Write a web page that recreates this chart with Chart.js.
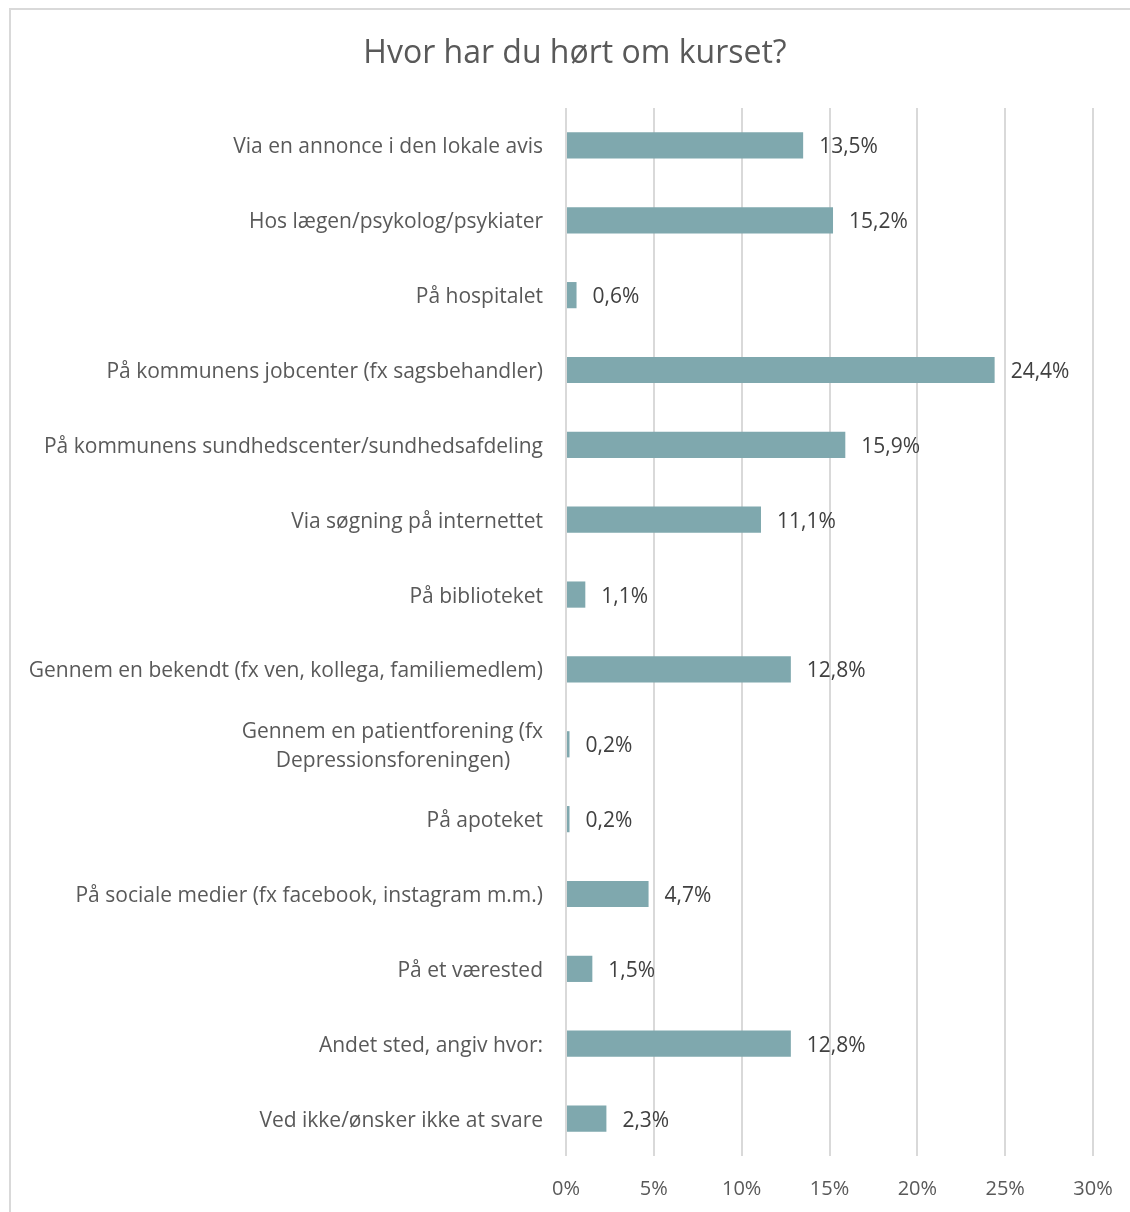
<!DOCTYPE html>
<html>
<head>
<meta charset="utf-8">
<script src="https://cdn.jsdelivr.net/npm/chart.js@4"></script>
<style>
  html, body { margin: 0; padding: 0; background: #fff; overflow: hidden; }
  body { width: 1130px; height: 1212px; position: relative; }
  #frame { position: absolute; left: 9px; top: 8px; width: 1200px; height: 1300px;
    border: 2px solid #d9d9d9; box-sizing: border-box; }
  #wrap { position: absolute; left: 10px; top: 8px; width: 1130px; height: 1204px; }
</style>
</head>
<body>
<div id="frame"></div>
<div id="wrap"><canvas id="chart"></canvas></div>
<script>
'use strict';
// survey answers, share of respondents in %
const CATEGORIES = [
  'Via en annonce i den lokale avis',
  'Hos lægen/psykolog/psykiater',
  'På hospitalet',
  'På kommunens jobcenter (fx sagsbehandler)',
  'På kommunens sundhedscenter/sundhedsafdeling',
  'Via søgning på internettet',
  'På biblioteket',
  'Gennem en bekendt (fx ven, kollega, familiemedlem)',
  ['Gennem en patientforening (fx', 'Depressionsforeningen)      '],
  'På apoteket',
  'På sociale medier (fx facebook, instagram m.m.)',
  'På et værested',
  'Andet sted, angiv hvor:',
  'Ved ikke/ønsker ikke at svare',
];
const VALUES = [13.5, 15.2, 0.6, 24.4, 15.9, 11.1, 1.1, 12.8, 0.2, 0.2, 4.7, 1.5, 12.8, 2.3];
const X_TICKS = [0, 5, 10, 15, 20, 25, 30];

const FONT = '"Open Sans", "Noto Sans", sans-serif';
const fmt = (v) => v.toFixed(1).replace('.', ',') + '%';

// value labels at bar ends
const valueLabels = {
  id: 'valueLabels',
  afterDatasetsDraw(chart) {
    const ctx = chart.ctx, meta = chart.getDatasetMeta(0);
    ctx.save();
    ctx.font = '21px ' + FONT;
    ctx.fillStyle = '#404040';
    ctx.textAlign = 'left';
    ctx.textBaseline = 'middle';
    meta.data.forEach((bar, i) => {
      ctx.fillText(fmt(VALUES[i]), bar.x + 16, bar.y + 2);
    });
    ctx.restore();
  }
};

new Chart(document.getElementById('chart'), {
  type: 'bar',
  data: {
    labels: CATEGORIES,
    datasets: [{
      data: VALUES,
      backgroundColor: '#7fa8ae',
      borderWidth: 0,
      barPercentage: 0.35,
      categoryPercentage: 1,
    }]
  },
  options: {
    indexAxis: 'y',
    responsive: true, maintainAspectRatio: false, animation: false,
    layout: { padding: 0 },
    plugins: {
      legend: { display: false },
      tooltip: { enabled: false },
      title: {
        display: true, text: 'Hvor har du hørt om kurset?',
        color: '#595959', font: { family: FONT, size: 32, weight: 'normal' },
        padding: { top: 27, bottom: 34.6 },
      },
    },
    scales: {
      x: {
        min: 0, max: 30,
        afterBuildTicks: (s) => { s.ticks = X_TICKS.map((v) => ({ value: v })); },
        afterFit: (s) => { s.height = 56; },
        border: { display: false },
        grid: { color: '#d9d9d9', lineWidth: 2, drawTicks: false },
        ticks: { color: '#595959', padding: 21, font: { family: FONT, size: 20 },
          callback: (v) => v + '%' },
      },
      y: {
        afterFit: (s) => { s.width = 556; },
        border: { display: false },
        grid: { display: false, drawTicks: false },
        ticks: { color: '#595959', padding: 23, autoSkip: false, labelOffset: 2,
          font: { family: FONT, size: 21, lineHeight: 1.4 } },
      },
      // empty right-hand spacer so the title stays centred on the whole frame
      yRight: {
        type: 'category', position: 'right',
        afterFit: (s) => { s.width = 47; },
        border: { display: false },
        grid: { display: false, drawTicks: false },
        ticks: { display: false },
      },
    },
  },
  plugins: [valueLabels],
});
</script>
</body>
</html>
